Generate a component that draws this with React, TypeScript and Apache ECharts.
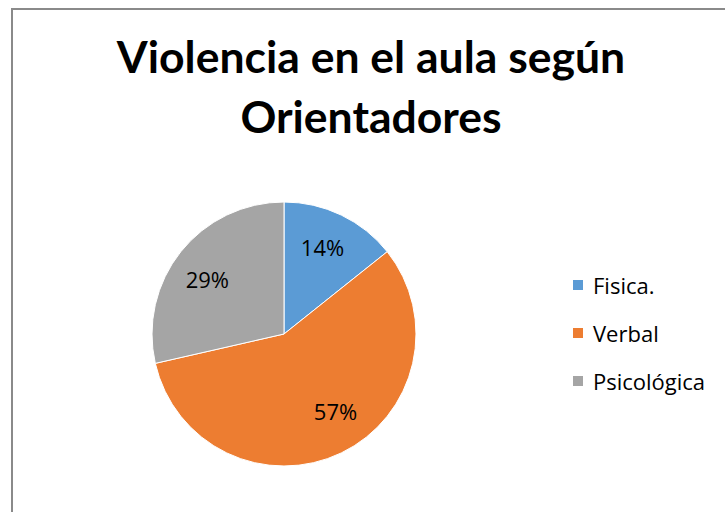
import React, { useEffect, useRef } from "react";
import * as echarts from "echarts";

const titleLines = ["Violencia en el aula según", "Orientadores"];
const categories = ["Fisica.", "Verbal", "Psicológica"];
const values = [1, 4, 2];
const colors = ["#5B9BD5", "#ED7D31", "#A5A5A5"];

// small nudges mimicking the original's "best fit" label placement
const labelNudges: [number, number][] = [[-4, 1], [9, -11], [0, 6]];

export default function App() {
  const ref = useRef<HTMLDivElement>(null);
  useEffect(() => {
    if (!ref.current) return;
    const chart = echarts.init(ref.current, null, { renderer: "svg" });
    const data = categories.map((name, i) => ({
      name,
      value: values[i],
      itemStyle: { color: colors[i] },
    }));
    const total = values.reduce((a, b) => a + b, 0);
    chart.setOption({
      animation: false,
      backgroundColor: "#ffffff",
      title: {
        text: titleLines.join("\n"),
        left: 371,
        top: 25,
        padding: 0,
        textAlign: "center",
        textStyle: {
          fontFamily: "Lato",
          fontWeight: "bold",
          fontSize: 44.5,
          lineHeight: 60,
          color: "#000000",
        },
      },
      legend: {
        orient: "vertical",
        left: 571,
        top: 274,
        padding: 0,
        itemWidth: 12,
        itemHeight: 12,
        itemGap: 26,
        icon: "rect",
        data: categories,
        textStyle: {
          fontFamily: "Open Sans",
          fontSize: 22,
          lineHeight: 22,
          color: "#000000",
          padding: [0, 0, 0, 4],
        },
      },
      graphic: [
        {
          type: "rect",
          silent: true,
          shape: { x: 12, y: 9, width: 800, height: 600 },
          style: { fill: "none", stroke: "#8a8a8a", lineWidth: 2 },
          z: -10,
        },
      ],
      series: [
        {
          type: "pie",
          center: [284, 334],
          radius: 132,
          startAngle: 90,
          clockwise: true,
          label: { show: false },
          labelLine: { show: false },
          itemStyle: { borderColor: "#ffffff", borderWidth: 1 },
          emphasis: { disabled: true },
          data,
        },
        {
          type: "pie",
          center: [284, 334],
          radius: [58, 132],
          startAngle: 90,
          clockwise: true,
          silent: true,
          legendHoverLink: false,
          itemStyle: { color: "rgba(0,0,0,0)" },
          label: {
            show: true,
            position: "inside",
            fontFamily: "Open Sans",
            fontSize: 22,
            color: "#000000",
            formatter: (p: any) => Math.round((p.value / total) * 100) + "%",
          },
          labelLine: { show: false },
          emphasis: { disabled: true },
          data: categories.map((name, i) => ({
            name: name + " ",
            value: values[i],
            label: { offset: labelNudges[i] },
          })),
        },
      ],
    });
    return () => chart.dispose();
  }, []);
  return (
    <div
      ref={ref}
      style={{ position: "absolute", left: 0, top: 0, width: 725, height: 512 }}
    />
  );
}
